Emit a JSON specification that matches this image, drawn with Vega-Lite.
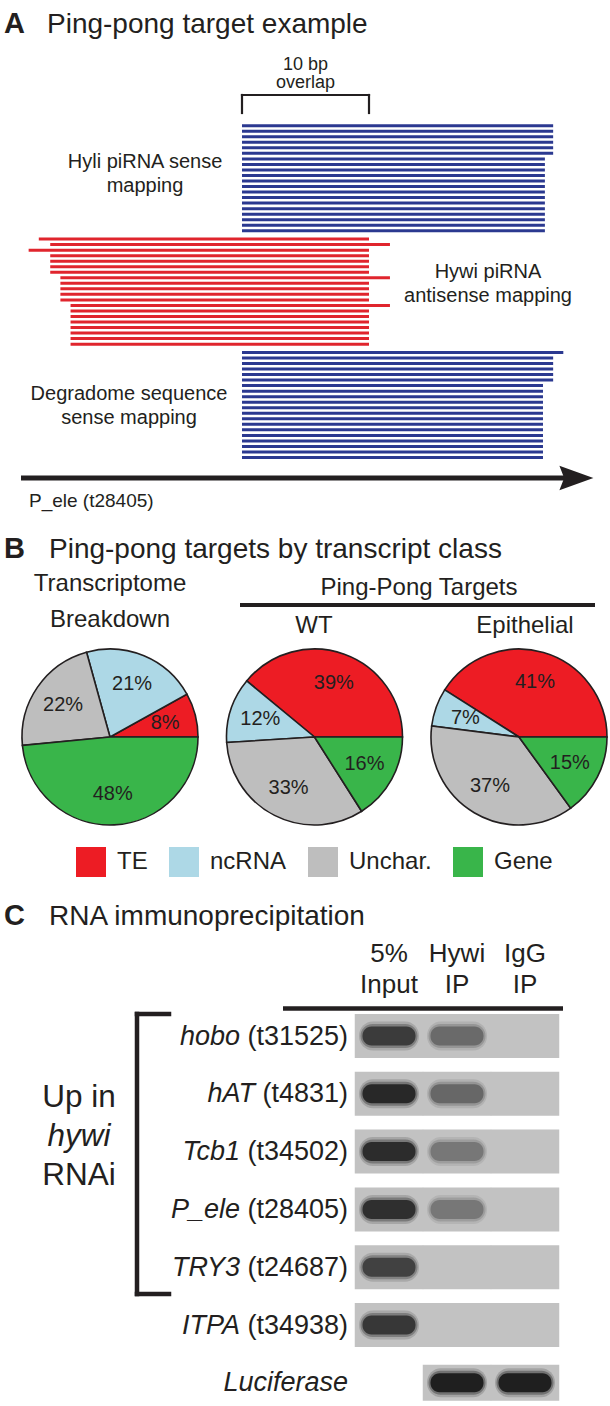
{
  "$schema": "https://vega.github.io/schema/vega-lite/v6.json",
  "background": "white",
  "padding": 0,
  "spacing": 0,
  "config": {
    "view": {"stroke": null},
    "axis": {"disable": true},
    "font": "Liberation Sans",
    "text": {"font": "Liberation Sans", "color": "#231f20"}
  },
  "datasets": {
    "reads": [
      {"library": "Hyli piRNA", "row": 1, "start": 0, "end": 24.5},
      {"library": "Hyli piRNA", "row": 2, "start": 0, "end": 24.5},
      {"library": "Hyli piRNA", "row": 3, "start": 0, "end": 24.5},
      {"library": "Hyli piRNA", "row": 4, "start": 0, "end": 24.5},
      {"library": "Hyli piRNA", "row": 5, "start": 0, "end": 24.5},
      {"library": "Hyli piRNA", "row": 6, "start": 0, "end": 24.5},
      {"library": "Hyli piRNA", "row": 7, "start": 0, "end": 23.85},
      {"library": "Hyli piRNA", "row": 8, "start": 0, "end": 23.85},
      {"library": "Hyli piRNA", "row": 9, "start": 0, "end": 23.85},
      {"library": "Hyli piRNA", "row": 10, "start": 0, "end": 23.85},
      {"library": "Hyli piRNA", "row": 11, "start": 0, "end": 23.85},
      {"library": "Hyli piRNA", "row": 12, "start": 0, "end": 23.85},
      {"library": "Hyli piRNA", "row": 13, "start": 0, "end": 23.85},
      {"library": "Hyli piRNA", "row": 14, "start": 0, "end": 23.85},
      {"library": "Hyli piRNA", "row": 15, "start": 0, "end": 23.85},
      {"library": "Hyli piRNA", "row": 16, "start": 0, "end": 23.85},
      {"library": "Hyli piRNA", "row": 17, "start": 0, "end": 23.85},
      {"library": "Hyli piRNA", "row": 18, "start": 0, "end": 23.85},
      {"library": "Hyli piRNA", "row": 19, "start": 0, "end": 23.85},
      {"library": "Hyli piRNA", "row": 20, "start": 0, "end": 23.85},
      {"library": "Hywi piRNA", "row": 21.5, "start": -16.0, "end": 10.0},
      {"library": "Hywi piRNA", "row": 22.5, "start": -15.1, "end": 11.65},
      {"library": "Hywi piRNA", "row": 23.5, "start": -16.8, "end": 10.0},
      {"library": "Hywi piRNA", "row": 24.5, "start": -15.1, "end": 10.0},
      {"library": "Hywi piRNA", "row": 25.5, "start": -15.1, "end": 10.0},
      {"library": "Hywi piRNA", "row": 26.5, "start": -15.1, "end": 10.0},
      {"library": "Hywi piRNA", "row": 27.5, "start": -15.1, "end": 10.0},
      {"library": "Hywi piRNA", "row": 28.5, "start": -14.3, "end": 11.65},
      {"library": "Hywi piRNA", "row": 29.5, "start": -14.3, "end": 10.0},
      {"library": "Hywi piRNA", "row": 30.5, "start": -14.3, "end": 10.0},
      {"library": "Hywi piRNA", "row": 31.5, "start": -14.3, "end": 10.0},
      {"library": "Hywi piRNA", "row": 32.5, "start": -14.3, "end": 10.0},
      {"library": "Hywi piRNA", "row": 33.5, "start": -13.5, "end": 11.65},
      {"library": "Hywi piRNA", "row": 34.5, "start": -13.5, "end": 10.0},
      {"library": "Hywi piRNA", "row": 35.5, "start": -13.5, "end": 10.0},
      {"library": "Hywi piRNA", "row": 36.5, "start": -13.5, "end": 10.0},
      {"library": "Hywi piRNA", "row": 37.5, "start": -13.5, "end": 10.0},
      {"library": "Hywi piRNA", "row": 38.5, "start": -13.5, "end": 10.0},
      {"library": "Hywi piRNA", "row": 39.5, "start": -13.5, "end": 10.0},
      {"library": "Hywi piRNA", "row": 40.5, "start": -13.5, "end": 10.0},
      {"library": "Degradome", "row": 42, "start": 0, "end": 25.3},
      {"library": "Degradome", "row": 43, "start": 0, "end": 24.5},
      {"library": "Degradome", "row": 44, "start": 0, "end": 24.5},
      {"library": "Degradome", "row": 45, "start": 0, "end": 24.5},
      {"library": "Degradome", "row": 46, "start": 0, "end": 24.5},
      {"library": "Degradome", "row": 47, "start": 0, "end": 24.5},
      {"library": "Degradome", "row": 48, "start": 0, "end": 23.7},
      {"library": "Degradome", "row": 49, "start": 0, "end": 23.7},
      {"library": "Degradome", "row": 50, "start": 0, "end": 23.7},
      {"library": "Degradome", "row": 51, "start": 0, "end": 23.7},
      {"library": "Degradome", "row": 52, "start": 0, "end": 23.7},
      {"library": "Degradome", "row": 53, "start": 0, "end": 23.7},
      {"library": "Degradome", "row": 54, "start": 0, "end": 23.7},
      {"library": "Degradome", "row": 55, "start": 0, "end": 23.7},
      {"library": "Degradome", "row": 56, "start": 0, "end": 23.7},
      {"library": "Degradome", "row": 57, "start": 0, "end": 23.7},
      {"library": "Degradome", "row": 58, "start": 0, "end": 23.7},
      {"library": "Degradome", "row": 59, "start": 0, "end": 23.7},
      {"library": "Degradome", "row": 60, "start": 0, "end": 23.7},
      {"library": "Degradome", "row": 61, "start": 0, "end": 23.7}
    ],
    "pies": [
      {"sample": "Transcriptome Breakdown", "class": "TE", "rank": 1, "share": 0.08},
      {"sample": "Transcriptome Breakdown", "class": "ncRNA", "rank": 2, "share": 0.21},
      {"sample": "Transcriptome Breakdown", "class": "Unchar.", "rank": 3, "share": 0.22},
      {"sample": "Transcriptome Breakdown", "class": "Gene", "rank": 4, "share": 0.48},
      {"sample": "WT", "class": "TE", "rank": 1, "share": 0.39},
      {"sample": "WT", "class": "ncRNA", "rank": 2, "share": 0.12},
      {"sample": "WT", "class": "Unchar.", "rank": 3, "share": 0.33},
      {"sample": "WT", "class": "Gene", "rank": 4, "share": 0.16},
      {"sample": "Epithelial", "class": "TE", "rank": 1, "share": 0.41},
      {"sample": "Epithelial", "class": "ncRNA", "rank": 2, "share": 0.07},
      {"sample": "Epithelial", "class": "Unchar.", "rank": 3, "share": 0.37},
      {"sample": "Epithelial", "class": "Gene", "rank": 4, "share": 0.15}
    ],
    "gel": [
      {"target": "hobo", "row": 1, "lane": 1, "signal": 0.8},
      {"target": "hobo", "row": 1, "lane": 2, "signal": 0.5},
      {"target": "hobo", "row": 1, "lane": 3, "signal": 0},
      {"target": "hAT", "row": 2, "lane": 1, "signal": 0.93},
      {"target": "hAT", "row": 2, "lane": 2, "signal": 0.52},
      {"target": "hAT", "row": 2, "lane": 3, "signal": 0},
      {"target": "Tcb1", "row": 3, "lane": 1, "signal": 0.9},
      {"target": "Tcb1", "row": 3, "lane": 2, "signal": 0.42},
      {"target": "Tcb1", "row": 3, "lane": 3, "signal": 0},
      {"target": "P_ele", "row": 4, "lane": 1, "signal": 0.88},
      {"target": "P_ele", "row": 4, "lane": 2, "signal": 0.42},
      {"target": "P_ele", "row": 4, "lane": 3, "signal": 0},
      {"target": "TRY3", "row": 5, "lane": 1, "signal": 0.76},
      {"target": "TRY3", "row": 5, "lane": 2, "signal": 0},
      {"target": "TRY3", "row": 5, "lane": 3, "signal": 0},
      {"target": "ITPA", "row": 6, "lane": 1, "signal": 0.82},
      {"target": "ITPA", "row": 6, "lane": 2, "signal": 0},
      {"target": "ITPA", "row": 6, "lane": 3, "signal": 0},
      {"target": "Luciferase", "row": 7, "lane": 2, "signal": 1.0},
      {"target": "Luciferase", "row": 7, "lane": 3, "signal": 1.0}
    ],
    "targets": [
      {"target": "hobo", "id": "(t31525)", "row": 1},
      {"target": "hAT", "id": "(t4831)", "row": 2},
      {"target": "Tcb1", "id": "(t34502)", "row": 3},
      {"target": "P_ele", "id": "(t28405)", "row": 4},
      {"target": "TRY3", "id": "(t24687)", "row": 5},
      {"target": "ITPA", "id": "(t34938)", "row": 6},
      {"target": "Luciferase", "id": "", "row": 7}
    ],
    "lanes": [
      {"lane": 1, "line1": "5%", "line2": "Input"},
      {"lane": 2, "line1": "Hywi", "line2": "IP"},
      {"lane": 3, "line1": "IgG", "line2": "IP"}
    ]
  },
  "vconcat": [
    {
      "width": 610,
      "height": 520,
      "layer": [
        {
          "data": {"name": "reads"},
          "mark": {"type": "rule", "strokeWidth": 3},
          "encoding": {
            "x": {"field": "start", "type": "quantitative", "scale": {"domain": [-19.0551, 28.9764], "nice": false, "zero": false}},
            "x2": {"field": "end"},
            "y": {"field": "row", "type": "quantitative", "scale": {"domain": [-21.7306, 72.302], "nice": false, "zero": false, "reverse": true}},
            "stroke": {"field": "library", "type": "nominal", "scale": {"domain": ["Hyli piRNA", "Hywi piRNA", "Degradome"], "range": ["#2b3990", "#e0252d", "#2b3990"]}, "legend": null}
          }
        },
        {
          "data": {"values": [{"t": "overlap"}]},
          "mark": {"type": "rule", "strokeWidth": 2.2, "color": "#231f20", "strokeCap": "square"},
          "encoding": {"x": {"datum": 0}, "x2": {"datum": 10}, "y": {"datum": -4.5515}}
        },
        {
          "data": {"values": [{"t": "overlap start"}]},
          "mark": {"type": "rule", "strokeWidth": 2.2, "color": "#231f20", "strokeCap": "square"},
          "encoding": {"x": {"datum": 0}, "y": {"datum": -4.5515}, "y2": {"datum": -1.2966}}
        },
        {
          "data": {"values": [{"t": "overlap end"}]},
          "mark": {"type": "rule", "strokeWidth": 2.2, "color": "#231f20", "strokeCap": "square"},
          "encoding": {"x": {"datum": 10}, "y": {"datum": -4.5515}, "y2": {"datum": -1.2966}}
        },
        {
          "data": {"values": [{"t": "A"}]},
          "mark": {"type": "text", "align": "left", "baseline": "alphabetic", "fontSize": 29, "fontWeight": "bold"},
          "encoding": {"x": {"datum": -18.7402}, "y": {"datum": -15.763}, "text": {"field": "t"}}
        },
        {
          "data": {"values": [{"t": "Ping-pong target example"}]},
          "mark": {"type": "text", "align": "left", "baseline": "alphabetic", "fontSize": 28},
          "encoding": {"x": {"datum": -15.3543}, "y": {"datum": -15.763}, "text": {"field": "t"}}
        },
        {
          "data": {"values": [{"t": ["10 bp", "overlap"]}]},
          "mark": {"type": "text", "align": "center", "baseline": "alphabetic", "fontSize": 18, "lineHeight": 18},
          "encoding": {"x": {"datum": 5.0}, "y": {"datum": -9.072}, "text": {"field": "t"}}
        },
        {
          "data": {"values": [{"t": ["Hyli piRNA sense", "mapping"]}]},
          "mark": {"type": "text", "align": "center", "baseline": "alphabetic", "fontSize": 20, "lineHeight": 24},
          "encoding": {"x": {"datum": -7.6378}, "y": {"datum": 8.649}, "text": {"field": "t"}}
        },
        {
          "data": {"values": [{"t": ["Hywi piRNA", "antisense mapping"]}]},
          "mark": {"type": "text", "align": "center", "baseline": "alphabetic", "fontSize": 20, "lineHeight": 24},
          "encoding": {"x": {"datum": 19.3701}, "y": {"datum": 28.541}, "text": {"field": "t"}}
        },
        {
          "data": {"values": [{"t": ["Degradome sequence", "sense mapping"]}]},
          "mark": {"type": "text", "align": "center", "baseline": "alphabetic", "fontSize": 20, "lineHeight": 24},
          "encoding": {"x": {"datum": -8.8976}, "y": {"datum": 50.6}, "text": {"field": "t"}}
        },
        {
          "data": {"values": [{"t": "P_ele"}]},
          "mark": {"type": "rule", "strokeWidth": 5, "color": "#231f20"},
          "encoding": {"x": {"datum": -17.4016}, "x2": {"datum": 25.5118}, "y": {"datum": 64.707}}
        },
        {
          "data": {"values": [{"t": "P_ele"}]},
          "mark": {"type": "point", "shape": "M-1,-0.72L1,0L-1,0.72L-0.72,0Z", "size": 1156, "filled": true, "opacity": 1, "color": "#231f20"},
          "encoding": {"x": {"datum": 26.3307}, "y": {"datum": 64.707}}
        },
        {
          "data": {"values": [{"t": "P_ele (t28405)"}]},
          "mark": {"type": "text", "align": "left", "baseline": "alphabetic", "fontSize": 19},
          "encoding": {"x": {"datum": -16.7717}, "y": {"datum": 69.951}, "text": {"field": "t"}}
        }
      ]
    },
    {
      "width": 610,
      "height": 370,
      "resolve": {"scale": {"theta": "independent"}},
      "layer": [
        {
          "data": {"values": [{"t": "B"}]},
          "mark": {"type": "text", "align": "left", "baseline": "alphabetic", "fontSize": 29, "fontWeight": "bold"},
          "encoding": {
            "x": {"datum": 0.48166, "scale": {"domain": [0.4621, 3.44499], "nice": false, "zero": false}},
            "y": {"datum": -0.87531, "scale": {"domain": [-1.06112, 0.74817], "nice": false, "zero": false, "reverse": true}},
            "text": {"field": "t"}
          }
        },
        {
          "data": {"values": [{"t": "Ping-pong targets by transcript class"}]},
          "mark": {"type": "text", "align": "left", "baseline": "alphabetic", "fontSize": 28},
          "encoding": {"x": {"datum": 0.70171}, "y": {"datum": -0.87531}, "text": {"field": "t"}}
        },
        {
          "data": {"values": [{"t": ["Transcriptome", "Breakdown"]}]},
          "mark": {"type": "text", "align": "center", "baseline": "alphabetic", "fontSize": 24, "lineHeight": 36},
          "encoding": {"x": {"datum": 1}, "y": {"datum": -0.71394}, "text": {"field": "t"}}
        },
        {
          "data": {"values": [{"t": "Ping-Pong Targets"}]},
          "mark": {"type": "text", "align": "center", "baseline": "alphabetic", "fontSize": 24},
          "encoding": {"x": {"datum": 2.511}, "y": {"datum": -0.69438}, "text": {"field": "t"}}
        },
        {
          "data": {"values": [{"t": "Ping-Pong Targets"}]},
          "mark": {"type": "rule", "strokeWidth": 4, "color": "#231f20"},
          "encoding": {"x": {"datum": 1.6357}, "x2": {"datum": 3.37164}, "y": {"datum": -0.64548}}
        },
        {
          "data": {"values": [{"t": "WT"}]},
          "mark": {"type": "text", "align": "center", "baseline": "alphabetic", "fontSize": 24},
          "encoding": {"x": {"datum": 1.99756}, "y": {"datum": -0.50856}, "text": {"field": "t"}}
        },
        {
          "data": {"values": [{"t": "Epithelial"}]},
          "mark": {"type": "text", "align": "center", "baseline": "alphabetic", "fontSize": 24},
          "encoding": {"x": {"datum": 3.02934}, "y": {"datum": -0.50856}, "text": {"field": "t"}}
        },
        {
          "data": {"name": "pies"},
          "transform": [{"filter": "datum.sample === 'Transcriptome Breakdown'"}],
          "mark": {"type": "arc", "radius": 88, "stroke": "#231f20", "strokeWidth": 1.6},
          "encoding": {
            "x": {"datum": 1}, "y": {"datum": 0},
            "theta": {"field": "share", "type": "quantitative", "stack": true, "scale": {"range": [1.5707963, -4.712389]}},
            "order": {"field": "rank", "type": "quantitative"},
            "color": {"field": "class", "type": "nominal", "scale": {"domain": ["TE", "ncRNA", "Unchar.", "Gene"], "range": ["#ed1c24", "#add8e6", "#bebebe", "#39b54a"]},
              "legend": {"orient": "none", "legendX": 76, "legendY": 847, "direction": "horizontal", "title": null, "symbolType": "square", "symbolSize": 900, "symbolStrokeWidth": 0, "symbolOpacity": 1, "labelFontSize": 24, "labelFont": "Liberation Sans", "labelColor": "#231f20", "labelOffset": 11, "columnPadding": 21, "padding": 0, "labelLimit": 300}}
          }
        },
        {
          "data": {"name": "pies"},
          "transform": [{"filter": "datum.sample === 'WT'"}],
          "mark": {"type": "arc", "radius": 88, "stroke": "#231f20", "strokeWidth": 1.6},
          "encoding": {
            "x": {"datum": 2}, "y": {"datum": 0},
            "theta": {"field": "share", "type": "quantitative", "stack": true, "scale": {"range": [1.5707963, -4.712389]}},
            "order": {"field": "rank", "type": "quantitative"},
            "color": {"field": "class", "type": "nominal", "scale": {"domain": ["TE", "ncRNA", "Unchar.", "Gene"], "range": ["#ed1c24", "#add8e6", "#bebebe", "#39b54a"]},
              "legend": {"orient": "none", "legendX": 76, "legendY": 847, "direction": "horizontal", "title": null, "symbolType": "square", "symbolSize": 900, "symbolStrokeWidth": 0, "symbolOpacity": 1, "labelFontSize": 24, "labelFont": "Liberation Sans", "labelColor": "#231f20", "labelOffset": 11, "columnPadding": 21, "padding": 0, "labelLimit": 300}}
          }
        },
        {
          "data": {"name": "pies"},
          "transform": [{"filter": "datum.sample === 'Epithelial'"}],
          "mark": {"type": "arc", "radius": 88, "stroke": "#231f20", "strokeWidth": 1.6},
          "encoding": {
            "x": {"datum": 3}, "y": {"datum": 0},
            "theta": {"field": "share", "type": "quantitative", "stack": true, "scale": {"range": [1.5707963, -4.712389]}},
            "order": {"field": "rank", "type": "quantitative"},
            "color": {"field": "class", "type": "nominal", "scale": {"domain": ["TE", "ncRNA", "Unchar.", "Gene"], "range": ["#ed1c24", "#add8e6", "#bebebe", "#39b54a"]},
              "legend": {"orient": "none", "legendX": 76, "legendY": 847, "direction": "horizontal", "title": null, "symbolType": "square", "symbolSize": 900, "symbolStrokeWidth": 0, "symbolOpacity": 1, "labelFontSize": 24, "labelFont": "Liberation Sans", "labelColor": "#231f20", "labelOffset": 11, "columnPadding": 21, "padding": 0, "labelLimit": 300}}
          }
        },
        {
          "data": {"name": "pies"},
          "transform": [{"filter": "datum.sample === 'Transcriptome Breakdown'"}],
          "mark": {"type": "text", "radius": 57, "fontSize": 20},
          "encoding": {
            "x": {"datum": 1}, "y": {"datum": 0},
            "theta": {"field": "share", "type": "quantitative", "stack": true, "scale": {"range": [1.5707963, -4.712389]}},
            "order": {"field": "rank", "type": "quantitative"},
            "detail": {"field": "class", "type": "nominal"},
            "text": {"field": "share", "type": "quantitative", "format": ".0%"}
          }
        },
        {
          "data": {"name": "pies"},
          "transform": [{"filter": "datum.sample === 'WT'"}],
          "mark": {"type": "text", "radius": 57, "fontSize": 20},
          "encoding": {
            "x": {"datum": 2}, "y": {"datum": 0},
            "theta": {"field": "share", "type": "quantitative", "stack": true, "scale": {"range": [1.5707963, -4.712389]}},
            "order": {"field": "rank", "type": "quantitative"},
            "detail": {"field": "class", "type": "nominal"},
            "text": {"field": "share", "type": "quantitative", "format": ".0%"}
          }
        },
        {
          "data": {"name": "pies"},
          "transform": [{"filter": "datum.sample === 'Epithelial'"}],
          "mark": {"type": "text", "radius": 57, "fontSize": 20},
          "encoding": {
            "x": {"datum": 3}, "y": {"datum": 0},
            "theta": {"field": "share", "type": "quantitative", "stack": true, "scale": {"range": [1.5707963, -4.712389]}},
            "order": {"field": "rank", "type": "quantitative"},
            "detail": {"field": "class", "type": "nominal"},
            "text": {"field": "share", "type": "quantitative", "format": ".0%"}
          }
        }
      ]
    },
    {
      "width": 610,
      "height": 516,
      "layer": [
        {
          "data": {"name": "gel"},
          "transform": [{"filter": "datum.row < 7"}],
          "mark": {"type": "rect", "width": 68.5, "height": 44, "color": "#c2c2c2"},
          "encoding": {
            "x": {"field": "lane", "type": "quantitative", "scale": {"domain": [-4.72059, 4.25], "nice": false, "zero": false}},
            "y": {"field": "row", "type": "quantitative", "scale": {"domain": [-1.52595, 7.40138], "nice": false, "zero": false, "reverse": true}}
          }
        },
        {
          "data": {"name": "gel"},
          "transform": [{"filter": "datum.row == 7"}],
          "mark": {"type": "rect", "width": 68.5, "height": 36, "color": "#c2c2c2"},
          "encoding": {
            "x": {"field": "lane", "type": "quantitative"},
            "y": {"field": "row", "type": "quantitative"}
          }
        },
        {
          "data": {"name": "gel"},
          "transform": [{"filter": "datum.signal > 0"}],
          "mark": {"type": "rect", "width": 60, "height": 29, "cornerRadius": 14, "opacity": 0.18},
          "encoding": {
            "x": {"field": "lane", "type": "quantitative"},
            "y": {"field": "row", "type": "quantitative"},
            "fill": {"field": "signal", "type": "quantitative", "scale": {"domain": [0, 1], "range": ["#c2c2c2", "#161616"]}, "legend": null}
          }
        },
        {
          "data": {"name": "gel"},
          "transform": [{"filter": "datum.signal > 0"}],
          "mark": {"type": "rect", "width": 57, "height": 24, "cornerRadius": 12, "opacity": 0.35},
          "encoding": {
            "x": {"field": "lane", "type": "quantitative"},
            "y": {"field": "row", "type": "quantitative"},
            "fill": {"field": "signal", "type": "quantitative", "scale": {"domain": [0, 1], "range": ["#c2c2c2", "#161616"]}, "legend": null}
          }
        },
        {
          "data": {"name": "gel"},
          "transform": [{"filter": "datum.signal > 0"}],
          "mark": {"type": "rect", "width": 53, "height": 19, "cornerRadius": 9, "opacity": 0.9},
          "encoding": {
            "x": {"field": "lane", "type": "quantitative"},
            "y": {"field": "row", "type": "quantitative"},
            "fill": {"field": "signal", "type": "quantitative", "scale": {"domain": [0, 1], "range": ["#c2c2c2", "#161616"]}, "legend": null}
          }
        },
        {
          "data": {"name": "targets"},
          "mark": {"type": "text", "align": "right", "baseline": "alphabetic", "fontSize": 27, "dy": 8.5},
          "encoding": {"x": {"datum": 0.39706}, "y": {"field": "row", "type": "quantitative"}, "text": {"field": "id"}}
        },
        {
          "data": {"name": "targets"},
          "transform": [{"filter": "length(datum.id) == 8"}],
          "mark": {"type": "text", "align": "right", "baseline": "alphabetic", "fontSize": 27, "fontStyle": "italic", "dy": 8.5, "dx": -108},
          "encoding": {"x": {"datum": 0.39706}, "y": {"field": "row", "type": "quantitative"}, "text": {"field": "target"}}
        },
        {
          "data": {"name": "targets"},
          "transform": [{"filter": "length(datum.id) == 7"}],
          "mark": {"type": "text", "align": "right", "baseline": "alphabetic", "fontSize": 27, "fontStyle": "italic", "dy": 8.5, "dx": -93},
          "encoding": {"x": {"datum": 0.39706}, "y": {"field": "row", "type": "quantitative"}, "text": {"field": "target"}}
        },
        {
          "data": {"name": "targets"},
          "transform": [{"filter": "length(datum.id) == 0"}],
          "mark": {"type": "text", "align": "right", "baseline": "alphabetic", "fontSize": 27, "fontStyle": "italic", "dy": 8.5},
          "encoding": {"x": {"datum": 0.39706}, "y": {"field": "row", "type": "quantitative"}, "text": {"field": "target"}}
        },
        {
          "data": {"name": "lanes"},
          "mark": {"type": "text", "align": "center", "baseline": "alphabetic", "fontSize": 26},
          "encoding": {"x": {"field": "lane", "type": "quantitative"}, "y": {"datum": -0.28028}, "text": {"field": "line1"}}
        },
        {
          "data": {"name": "lanes"},
          "mark": {"type": "text", "align": "center", "baseline": "alphabetic", "fontSize": 26},
          "encoding": {"x": {"field": "lane", "type": "quantitative"}, "y": {"datum": 0.25606}, "text": {"field": "line2"}}
        },
        {
          "data": {"values": [{"t": "lanes"}]},
          "mark": {"type": "rule", "strokeWidth": 4.5, "color": "#231f20"},
          "encoding": {"x": {"datum": -0.55882}, "x2": {"datum": 3.55882}, "y": {"datum": 0.52422}}
        },
        {
          "data": {"values": [{"t": "Up in hywi RNAi"}]},
          "mark": {"type": "rule", "strokeWidth": 4.5, "color": "#231f20", "strokeCap": "square"},
          "encoding": {"x": {"datum": -2.70588}, "y": {"datum": 0.61938}, "y2": {"datum": 5.46367}}
        },
        {
          "data": {"values": [{"t": "Up in hywi RNAi"}]},
          "mark": {"type": "rule", "strokeWidth": 4.5, "color": "#231f20", "strokeCap": "square"},
          "encoding": {"x": {"datum": -2.70588}, "x2": {"datum": -2.23529}, "y": {"datum": 0.61938}}
        },
        {
          "data": {"values": [{"t": "Up in hywi RNAi"}]},
          "mark": {"type": "rule", "strokeWidth": 4.5, "color": "#231f20", "strokeCap": "square"},
          "encoding": {"x": {"datum": -2.70588}, "x2": {"datum": -2.23529}, "y": {"datum": 5.46367}}
        },
        {
          "data": {"values": [{"t": "Up in"}]},
          "mark": {"type": "text", "align": "center", "baseline": "alphabetic", "fontSize": 31.5},
          "encoding": {"x": {"datum": -3.55882}, "y": {"datum": 2.22837}, "text": {"field": "t"}}
        },
        {
          "data": {"values": [{"t": "hywi"}]},
          "mark": {"type": "text", "align": "center", "baseline": "alphabetic", "fontSize": 31.5, "fontStyle": "italic"},
          "encoding": {"x": {"datum": -3.55882}, "y": {"datum": 2.90311}, "text": {"field": "t"}}
        },
        {
          "data": {"values": [{"t": "RNAi"}]},
          "mark": {"type": "text", "align": "center", "baseline": "alphabetic", "fontSize": 31.5},
          "encoding": {"x": {"datum": -3.55882}, "y": {"datum": 3.57785}, "text": {"field": "t"}}
        },
        {
          "data": {"values": [{"t": "C"}]},
          "mark": {"type": "text", "align": "left", "baseline": "alphabetic", "fontSize": 29, "fontWeight": "bold"},
          "encoding": {"x": {"datum": -4.66176}, "y": {"datum": -0.92042}, "text": {"field": "t"}}
        },
        {
          "data": {"values": [{"t": "RNA immunoprecipitation"}]},
          "mark": {"type": "text", "align": "left", "baseline": "alphabetic", "fontSize": 28},
          "encoding": {"x": {"datum": -4.0}, "y": {"datum": -0.92042}, "text": {"field": "t"}}
        }
      ]
    }
  ]
}
